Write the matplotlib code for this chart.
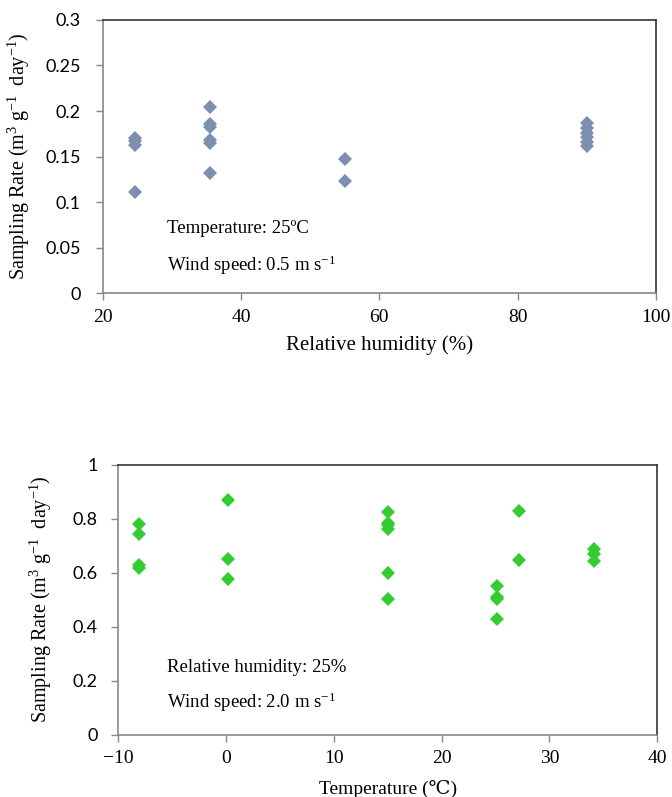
import numpy as np
import matplotlib
matplotlib.use('Agg')
import matplotlib.pyplot as plt

# Fuentes: serif para etiquetas, sans para los ticks
plt.rcParams['mathtext.fontset'] = 'custom'
plt.rcParams['mathtext.rm'] = 'Liberation Serif'
plt.rcParams['mathtext.it'] = 'Liberation Serif:italic'

# Datos del panel superior (humedad relativa)
rh = [24.7, 24.7, 24.7, 24.7,
      35.5, 35.5, 35.5, 35.5, 35.5, 35.5,
      55.0, 55.0,
      90.0, 90.0, 90.0, 90.0, 90.0, 90.0]
rate_rh = [0.170, 0.167, 0.163, 0.111,
           0.204, 0.186, 0.183, 0.168, 0.165, 0.132,
           0.147, 0.123,
           0.187, 0.181, 0.176, 0.171, 0.166, 0.162]

# Datos del panel inferior (temperatura)
temp = [-8.1, -8.1, -8.1, -8.1,
        0.2, 0.2, 0.2,
        15.0, 15.0, 15.0, 15.0, 15.0, 15.0,
        25.1, 25.1, 25.1, 25.1,
        27.2, 27.2,
        34.1, 34.1, 34.1]
rate_temp = [0.781, 0.742, 0.628, 0.618,
             0.871, 0.649, 0.577,
             0.825, 0.784, 0.776, 0.763, 0.598, 0.501,
             0.551, 0.511, 0.504, 0.427,
             0.827, 0.646,
             0.687, 0.671, 0.644]

ylabel = r'Sampling Rate (m$^{3}$ g$^{-1}$  day$^{-1}$)'
serif = 'Liberation Serif'
sans = 'Lato'

fig = plt.figure(figsize=(6.72, 7.97), dpi=100)
ax1 = fig.add_axes([0.153, 0.632, 0.823, 0.343])
ax2 = fig.add_axes([0.176, 0.078, 0.802, 0.339])


def estilo(ax, pad_y):
    # ejes izquierdo/inferior grises, superior/derecho oscuros
    ax.spines['left'].set_color('#888888')
    ax.spines['bottom'].set_color('#888888')
    ax.spines['top'].set_color('#333333')
    ax.spines['right'].set_color('#333333')
    for s in ax.spines.values():
        s.set_linewidth(1.2)
    ax.tick_params(direction='out', length=5, color='#888888', width=1)
    ax.tick_params(axis='x', pad=6)
    ax.tick_params(axis='y', pad=pad_y)


# Panel superior
ax1.plot(rh, rate_rh, 'D', color='#7B8FAE', markersize=7.5, markeredgewidth=0)
ax1.set_xlim(20, 100)
ax1.set_ylim(0, 0.3)
ax1.set_xticks([20, 40, 60, 80, 100])
ax1.set_yticks([0, 0.05, 0.1, 0.15, 0.2, 0.25, 0.3])
ax1.set_yticklabels(['0', '0.05', '0.1', '0.15', '0.2', '0.25', '0.3'],
                    family=sans, fontsize=13)
ax1.set_xticklabels(['20', '40', '60', '80', '100'], family=serif, fontsize=14)
ax1.set_xlabel('Relative humidity (%)', family=serif, fontsize=15)
ax1.set_ylabel(ylabel, family=serif, fontsize=14.5)
ax1.yaxis.set_label_coords(-0.128, 0.5)
ax1.xaxis.set_label_coords(0.5, -0.155)
ax1.text(0.116, 0.238, 'Temperature: 25ºC', transform=ax1.transAxes,
         family=serif, fontsize=13.5, va='center')
ax1.text(0.116, 0.103, r'Wind speed: 0.5 m s$^{-1}$', transform=ax1.transAxes,
         family=serif, fontsize=13.5, va='center')
estilo(ax1, 11)

# Panel inferior
ax2.plot(temp, rate_temp, 'D', color='#33CC33', markersize=7.5, markeredgewidth=0)
ax2.set_xlim(-10, 40)
ax2.set_ylim(0, 1)
ax2.set_xticks([-10, 0, 10, 20, 30, 40])
ax2.set_xticklabels(['\u221210', '0', '10', '20', '30', '40'], family=serif, fontsize=14)
ax2.set_yticks([0, 0.2, 0.4, 0.6, 0.8, 1])
ax2.set_yticklabels(['0', '0.2', '0.4', '0.6', '0.8', '1'], family=sans, fontsize=13)
ax2.set_xlabel('Temperature (\u2103)', family=['Liberation Serif', 'DejaVu Serif'], fontsize=14)
ax2.set_ylabel(ylabel, family=serif, fontsize=14.5)
ax2.yaxis.set_label_coords(-0.119, 0.5)
ax2.xaxis.set_label_coords(0.5, -0.165)
ax2.text(0.091, 0.25, 'Relative humidity: 25%', transform=ax2.transAxes,
         family=serif, fontsize=13.5, va='center')
ax2.text(0.091, 0.12, r'Wind speed: 2.0 m s$^{-1}$', transform=ax2.transAxes,
         family=serif, fontsize=13.5, va='center')
estilo(ax2, 10)

plt.savefig('out.png', dpi=100)
